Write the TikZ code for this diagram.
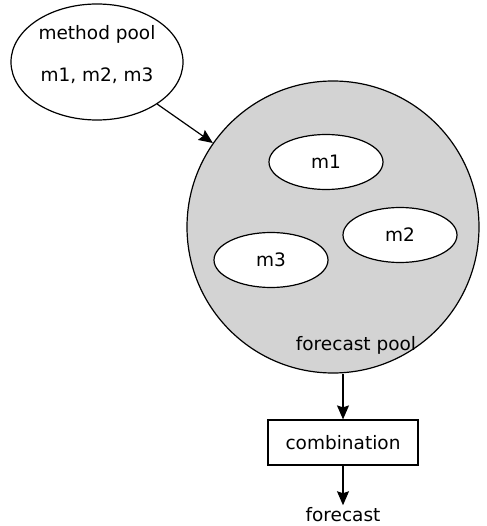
\documentclass[tikz,border=0pt]{standalone}
\usepackage{fontspec}
\setmainfont{DejaVu Sans}
\usetikzlibrary{shapes.geometric,arrows.meta,positioning}
\definecolor{poolgray}{RGB}{211,211,211}

\begin{document}
\begin{tikzpicture}[x=1pt, y=-1pt, line width=1.2pt,
    every node/.style={font=\fontsize{18.5}{22}\selectfont},
    method/.style={ellipse, draw, fill=white, inner sep=0pt, minimum width=114pt, minimum height=55pt},
    pool background/.style={circle, draw, fill=poolgray, minimum size=292pt, inner sep=0pt},
    combine box/.style={rectangle, draw, minimum width=150pt, minimum height=45pt},
    flow/.style={-{Stealth[length=14pt, width=12pt, inset=2pt]}}
  ]
  \useasboundingbox (0,0) rectangle (486,526);

  % method pool
  \node [ellipse, draw, inner sep=0pt, minimum width=172pt, minimum height=116pt] (mpool) at (97,62) {};
  \node (mpooltitle) at (97,34) {method pool};
  \node (mpoollist) at (97,76) {m1, m2, m3};

  % forecast pool with its methods
  \node [pool background] (fpool) at (333,227) {};
  \node [method] (m1) at (326,162) {m1};
  \node [method] (m2) at (400,235) {m2};
  \node [method] (m3) at (271,260) {m3};
  \node (fpooltitle) at (356,345) {forecast pool};

  % combination and result
  \node [combine box] (combo) at (343,442.5) {combination};
  \node [inner sep=2pt] (forecast) at (343,515) {forecast};

  \draw [flow] (mpool) -- (fpool);
  \draw [flow] (fpool.south -| combo.north) -- (combo.north);
  \draw [flow] (combo) -- (forecast);
\end{tikzpicture}
\end{document}
